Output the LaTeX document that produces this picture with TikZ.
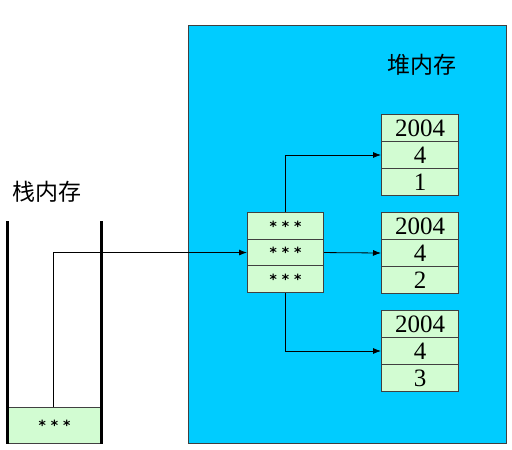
\documentclass[tikz,border=0pt]{standalone}
\usepackage{fontspec}
\setmainfont{Liberation Serif}
\newfontfamily\cjk{Noto Sans CJK SC}
\newfontfamily\astfont{DejaVu Sans}
\usetikzlibrary{arrows.meta}
\definecolor{heapblue}{HTML}{00CCFF}
\definecolor{cellgreen}{HTML}{D2FCD2}
\definecolor{cellline}{HTML}{404040}
\begin{document}
\begin{tikzpicture}[x=1pt,y=-1pt,
  cell/.style={draw=cellline,line width=1pt,fill=cellgreen,minimum width=77pt,minimum height=27pt,inner sep=0pt,anchor=north west,font=\fontsize{25}{25}\selectfont},
  astcell/.style={cell,minimum width=76pt,minimum height=26.7pt,font=\astfont\bfseries\fontsize{14}{14}\selectfont},
  conn/.style={line width=0.8pt,-{Latex[length=8pt,width=6pt]}},
  wall/.style={line width=3pt}]
\useasboundingbox (0,0) rectangle (512,450);
% heap area
\node[draw=cellline,line width=1pt,fill=heapblue,minimum width=318pt,minimum height=418pt,anchor=north west,inner sep=0pt] (heap) at (188,25) {};
\node[font=\cjk\fontsize{23}{23}\selectfont] (heaplabel) at (422,65) {堆内存};
% stack
\node[font=\cjk\fontsize{23}{23}\selectfont] (stacklabel) at (47,192) {栈内存};
\node[cell,minimum width=94pt,minimum height=36pt,font=\astfont\bfseries\fontsize{14}{14}\selectfont] (s1) at (7,407) {* * *};
\draw[wall] (7,221) -- (7,444);
\draw[wall] (101,221) -- (101,444);
% middle reference block
\node[astcell] (m1) at (247,212) {* * *};
\node[astcell] (m2) at (247,238.7) {* * *};
\node[astcell] (m3) at (247,265.3) {* * *};
% heap objects
\node[cell] (a1) at (381,114) {2004};
\node[cell] (a2) at (381,141) {4};
\node[cell] (a3) at (381,168) {1};
\node[cell] (b1) at (381,212) {2004};
\node[cell] (b2) at (381,239) {4};
\node[cell] (b3) at (381,266) {2};
\node[cell] (c1) at (381,310) {2004};
\node[cell] (c2) at (381,337) {4};
\node[cell] (c3) at (381,364) {3};
% connectors
\draw[conn] (s1.north) ++(-1,0) coordinate (sp) -- (sp |- m2.west) -- (m2.west);
\draw[conn] (m1.north) -- (m1.north |- a2.west) -- (a2.west);
\draw[conn] (m2.east) -- (b2.west);
\draw[conn] (m3.south) -- (m3.south |- c2.west) -- (c2.west);
\end{tikzpicture}
\end{document}
